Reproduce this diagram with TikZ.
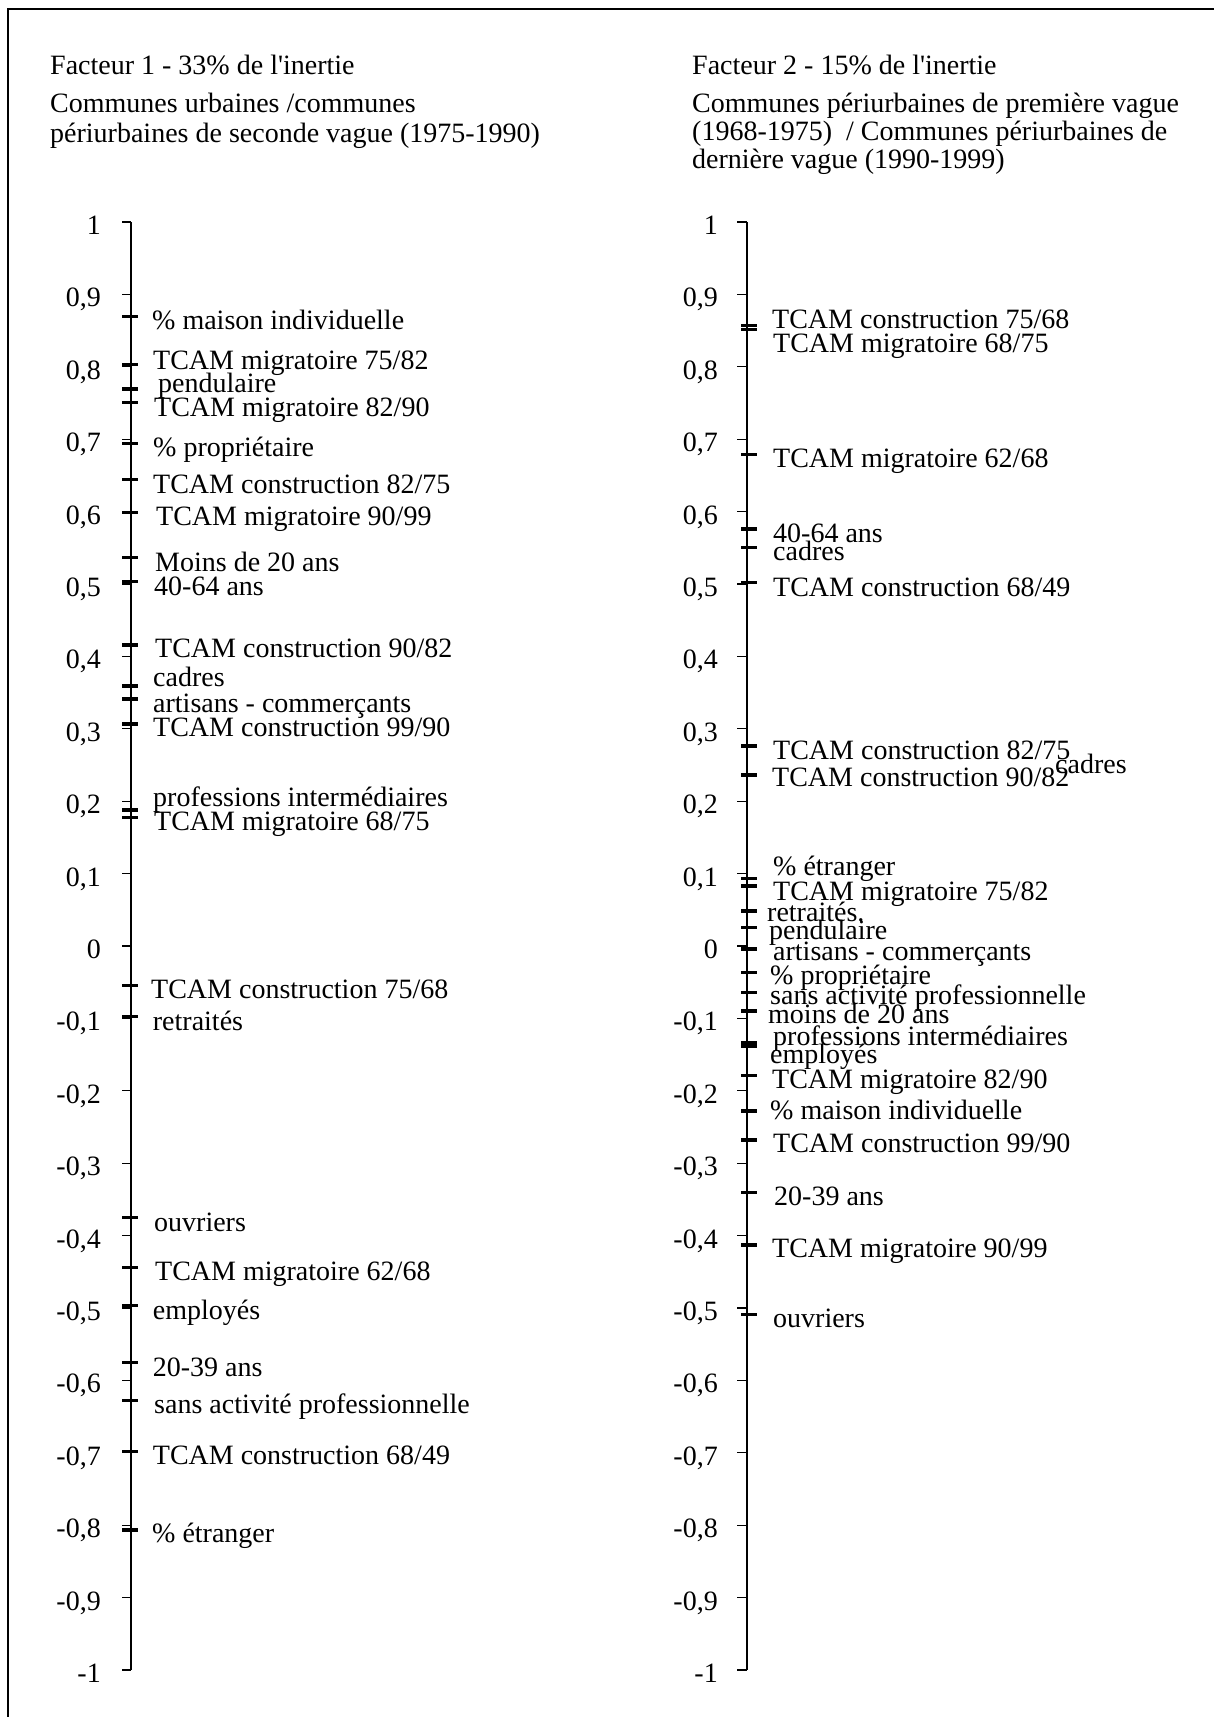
\documentclass[tikz,border=0pt]{standalone}
\usepackage{fontspec}
\setmainfont{Liberation Serif}
\begin{document}
\begin{tikzpicture}[x=1pt,y=-1pt,
  lab/.style={anchor=base west, inner sep=0pt, font=\fontsize{28}{32}\selectfont},
  num/.style={anchor=base east, inner sep=0pt, font=\fontsize{28}{32}\selectfont},
  head/.style={anchor=base west, inner sep=0pt, font=\fontsize{28}{32}\selectfont},
  datatick/.style={line width=3.4pt},
  gridtick/.style={line width=1.1pt},
  axisline/.style={line width=1.8pt},
  framestyle/.style={line width=2.8pt}]
\useasboundingbox (0,0) rectangle (1214,1717);
\fill[white] (0,0) rectangle (1214,1717);
% frame (only left and top sides visible)
\coordinate (FB) at (8,1717);
\coordinate (FC) at (8,9);
\coordinate (FR) at (1214,9);
\draw[framestyle] (FB) -- (FC) -- (FR);
% headers
\node[head] (h1) at (50,74) {Facteur 1 - 33\% de l\textquotesingle inertie};
\node[head] (h2) at (50,112) {Communes urbaines /communes};
\node[head] (h3) at (50,142) {périurbaines de seconde vague (1975-1990)};
\node[head] (h4) at (692,74) {Facteur 2 - 15\% de l\textquotesingle inertie};
\node[head] (h5) at (692,112) {Communes périurbaines de première vague};
\node[head] (h6) at (692,140) {(1968-1975)\ \ / Communes périurbaines de};
\node[head] (h7) at (692,168) {dernière vague (1990-1999)};
% axes
\coordinate (LT) at (131,222);
\coordinate (LB) at (131,1670);
\coordinate (RT) at (747,222);
\coordinate (RB) at (747,1670);
\draw[axisline] (LT) -- (LB);
\draw[axisline] (RT) -- (RB);
% scale ticks and numbers
\foreach \k/\lab in {0/1,1/{0,9},2/{0,8},3/{0,7},4/{0,6},5/{0,5},6/{0,4},7/{0,3},8/{0,2},9/{0,1},10/0,
  11/{-0,1},12/{-0,2},13/{-0,3},14/{-0,4},15/{-0,5},16/{-0,6},17/{-0,7},18/{-0,8},19/{-0,9},20/{-1}}{
  \draw[gridtick] (122,{222+72.4*\k}) -- (131,{222+72.4*\k});
  \draw[gridtick] (737,{222+72.4*\k}) -- (747,{222+72.4*\k});
  \node[num] (nl\k) at (101,{222+72.4*\k+12.5}) {\lab};
  \node[num] (nr\k) at (718,{222+72.4*\k+12.5}) {\lab};
}
% factor 1 data
\foreach \ty/\txt/\tx/\by [count=\i] in {
  316.7/{\% maison individuelle}/152/329,
  364.3/{TCAM migratoire 75/82}/153/369,
  389/{pendulaire}/158/392,
  402.3/{TCAM migratoire 82/90}/154/416.7,
  443.3/{\% propriétaire}/153/456.7,
  479.3/{TCAM construction 82/75}/153/493,
  512.7/{TCAM migratoire 90/99}/156/525,
  557.7/{Moins de 20 ans}/155/571,
  581.7/{40-64 ans}/154/595,
  645/{TCAM construction 90/82}/155/657,
  686/{cadres}/153/686.7,
  699/{artisans - commerçants}/153/712.7,
  724/{TCAM construction 99/90}/153/736.7,
  810/{professions intermédiaires}/153/806.7,
  817.7/{TCAM migratoire 68/75}/154/830.7,
  985.7/{TCAM construction 75/68}/151/998.3,
  1016.7/{retraités}/152.7/1030,
  1217.3/{ouvriers}/154/1231,
  1267.3/{TCAM migratoire 62/68}/155/1280,
  1305.7/{employés}/152.7/1319.3,
  1362.3/{20-39 ans}/152.7/1376.7,
  1400.7/{sans activité professionnelle}/154/1413.3,
  1451.7/{TCAM construction 68/49}/152.7/1464,
  1530/{\% étranger}/152/1542.7}{
  \draw[datatick] (122,\ty) -- (138,\ty);
  \node[lab] (a\i) at (\tx,\by) {\txt};
}
% factor 2 data
\foreach \ty/\txt/\tx/\by [count=\i] in {
  325.5/{TCAM construction 75/68}/772/328.3,
  329.5/{TCAM migratoire 68/75}/773/352.3,
  454.3/{TCAM migratoire 62/68}/773/467.7,
  529/{40-64 ans}/773/542.3,
  547.7/{cadres}/773/560,
  582.7/{TCAM construction 68/49}/773/596.7,
  746/{TCAM construction 82/75}/773/759,
  775/{TCAM construction 90/82}/772/786.7,
  878.3/{\% étranger}/773/875,
  886/{TCAM migratoire 75/82}/773/900.7,
  911/{retraités.}/767/921.7,
  927.3/{pendulaire}/769/939,
  949/{artisans - commerçants}/773/960,
  972.7/{\% propriétaire}/770/984,
  992.3/{sans activité professionnelle}/770/1004,
  1011/{moins de 20 ans}/768/1023.3,
  1043/{professions intermédiaires}/773/1045.7,
  1046/{employés}/770/1063.3,
  1075.7/{TCAM migratoire 82/90}/772/1088.3,
  1111/{\% maison individuelle}/770/1119,
  1140/{TCAM construction 99/90}/773/1152.7,
  1192.7/{20-39 ans}/774/1205.7,
  1245/{TCAM migratoire 90/99}/772/1257.7,
  1314.3/{ouvriers}/773/1327.7}{
  \draw[datatick] (741,\ty) -- (757,\ty);
  \node[lab] (b\i) at (\tx,\by) {\txt};
}
\node[lab] (bx) at (1055,773.3) {cadres};
\end{tikzpicture}
\end{document}
